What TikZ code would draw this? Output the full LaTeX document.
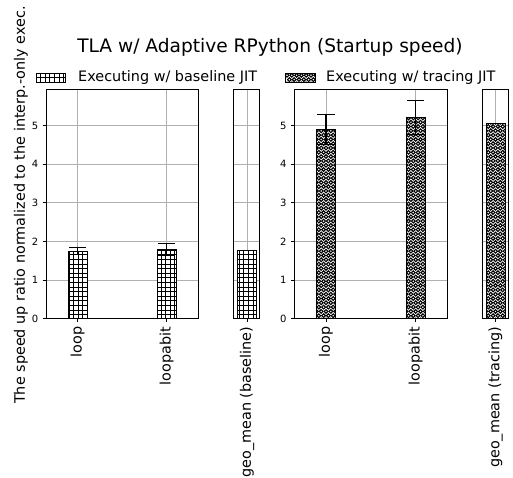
\documentclass[tikz,border=0pt]{standalone}
\usepackage{fontspec}
\setmainfont{DejaVu Sans}
\begin{document}
\begin{tikzpicture}[x=1pt,y=-1pt,
  declare function={yv(\v)=318.7-38.6*\v;},
  spine/.style={line width=1.0pt,black},
  gridline/.style={line width=1.0pt,color=gridgray},
  errbar/.style={line width=1.5pt,black},
  errcap/.style={line width=1.15pt,black},
  tickmark/.style={line width=0.9pt,black},
  ticklabel/.style={font=\fontsize{10}{11}\selectfont,anchor=east,inner sep=0pt},
  catlabel/.style={font=\fontsize{14.4}{15}\selectfont,rotate=90,anchor=east,inner sep=0pt},
  hatchline/.style={line width=0.8pt,black},
  ring/.style={line width=1.1pt,black},
]
\definecolor{gridgray}{HTML}{B0B0B0}
\useasboundingbox (0,0) rectangle (513,478);
\fill[white] (0,0) rectangle (513,478);

% ---------- hatched bars ----------
% grid-hatched bar: centre x, height value
\newcommand{\gridbar}[2]{%
  \fill[white] ({#1-9.3},{yv(#2)}) rectangle ({#1+9.3},318.7);
  \begin{scope}
    \clip ({#1-9.3},{yv(#2)}) rectangle ({#1+9.3},318.7);
    \foreach \gx in {0,4.6,...,513} \draw[hatchline] (\gx,80) -- (\gx,330);
    \foreach \gy in {80,84.6,...,330} \draw[hatchline] (0,\gy) -- (513,\gy);
  \end{scope}
  \draw[line width=0.9pt] ({#1-9.3},318.7) -- ({#1-9.3},{yv(#2)}) -- ({#1+9.3},{yv(#2)}) -- ({#1+9.3},318.7);
}
% ring-hatched bar: centre x, height value
\newcommand{\ringbar}[2]{%
  \fill[white] ({#1-9.5},{yv(#2)}) rectangle ({#1+9.5},318.7);
  \begin{scope}
    \clip ({#1-9.5},{yv(#2)}) rectangle ({#1+9.5},318.7);
    \foreach \r in {0,...,54} {
      \foreach \c in {-3,...,3} {
        \draw[ring] ({#1+\c*4.8+mod(\r,2)*2.4},{320-\r*4.3}) circle[radius=1.85];
      }
    }
  \end{scope}
  \draw[line width=0.9pt] ({#1-9.5},318.7) -- ({#1-9.5},{yv(#2)}) -- ({#1+9.5},{yv(#2)}) -- ({#1+9.5},318.7);
}
% symmetric error bar: centre x, low, high
\newcommand{\errbar}[3]{%
  \draw[errbar] (#1,{yv(#2)}) -- (#1,{yv(#3)});
  \draw[errcap] ({#1-8.7},{yv(#2)}) -- ({#1+8.7},{yv(#2)});
  \draw[errcap] ({#1-8.7},{yv(#3)}) -- ({#1+8.7},{yv(#3)});
}

% ---------- grids ----------
\begin{scope}
  \foreach \v in {1,...,5} {
    \draw[gridline] (46,{yv(\v)}) -- (198,{yv(\v)});
    \draw[gridline] (233.3,{yv(\v)}) -- (259.3,{yv(\v)});
    \draw[gridline] (294.3,{yv(\v)}) -- (447.3,{yv(\v)});
    \draw[gridline] (482.7,{yv(\v)}) -- (508.3,{yv(\v)});
  }
  \foreach \gx in {77.7,166.7,247,326,415.7,495.5}
    \draw[gridline] (\gx,89.5) -- (\gx,318.7);
\end{scope}

% ---------- bars ----------
\gridbar{77.7}{1.75}
\gridbar{166.7}{1.79}
\gridbar{247}{1.76}
\ringbar{326}{4.91}
\ringbar{415.7}{5.21}
\ringbar{495.5}{5.06}

\errbar{77.7}{1.66}{1.84}
\errbar{166.7}{1.64}{1.94}
\errbar{326}{4.52}{5.30}
\errbar{415.7}{4.77}{5.65}

% ---------- axes frames ----------
\draw[spine] (46,89.5) rectangle (198,318.7);
\draw[spine] (233.3,89.5) rectangle (259.3,318.7);
\draw[spine] (294.3,89.5) rectangle (447.3,318.7);
\draw[spine] (482.7,89.5) rectangle (508.3,318.7);

% y ticks and labels
\foreach \v in {0,...,5} {
  \draw[tickmark] (42.5,{yv(\v)}) -- (46,{yv(\v)});
  \node[ticklabel] (ya\v) at (38.5,{yv(\v)}) {\v};
  \draw[tickmark] (290.8,{yv(\v)}) -- (294.3,{yv(\v)});
  \node[ticklabel] (yb\v) at (286.8,{yv(\v)}) {\v};
}

% x ticks
\foreach \gx in {77.7,166.7,247,326,415.7,495.5}
  \draw[tickmark] (\gx,318.7) -- (\gx,322.2);

% category labels
\node[catlabel] (c1) at (77.7,326.5) {loop};
\node[catlabel] (c2) at (166.7,326.5) {loopabit};
\node[catlabel] (c3) at (247,326.5) {geo\_mean (baseline)};
\node[catlabel] (c4) at (326,326.5) {loop};
\node[catlabel] (c5) at (415.7,326.5) {loopabit};
\node[catlabel] (c6) at (495.5,326.5) {geo\_mean (tracing)};

% axis title
\node[font=\fontsize{14.4}{15}\selectfont,rotate=90,anchor=west,inner sep=0pt] (ylab) at (21,404)
  {The speed up ratio normalized to the interp.-only exec.};

% figure title
\node[font=\fontsize{18.6}{19}\selectfont,inner sep=0pt] (title) at (270,47.5)
  {TLA w/ Adaptive RPython (Startup speed)};

% ---------- legend ----------
\fill[white] (36,73.3) rectangle (65,82);
\begin{scope}
  \clip (36,73.3) rectangle (65,82);
  \foreach \gx in {36,40.6,...,66} \draw[hatchline] (\gx,70) -- (\gx,85);
  \foreach \gy in {73.3,77.9,...,83} \draw[hatchline] (30,\gy) -- (70,\gy);
\end{scope}
\draw[line width=0.9pt] (36,73.3) rectangle (65,82);
\node[font=\fontsize{14.4}{15}\selectfont,anchor=west,inner sep=0pt] (leg1) at (78,77.6) {Executing w/ baseline JIT};

\fill[white] (285.5,73.3) rectangle (315,82);
\begin{scope}
  \clip (285.5,73.3) rectangle (315,82);
  \foreach \r in {0,...,2}
    \foreach \c in {0,...,7}
      \draw[ring] ({287+\c*4.8+mod(\r,2)*2.4},{75.3+\r*4.3}) circle[radius=1.85];
\end{scope}
\draw[line width=0.9pt] (285.5,73.3) rectangle (315,82);
\node[font=\fontsize{14.4}{15}\selectfont,anchor=west,inner sep=0pt] (leg2) at (326,77.6) {Executing w/ tracing JIT};
\end{tikzpicture}
\end{document}
